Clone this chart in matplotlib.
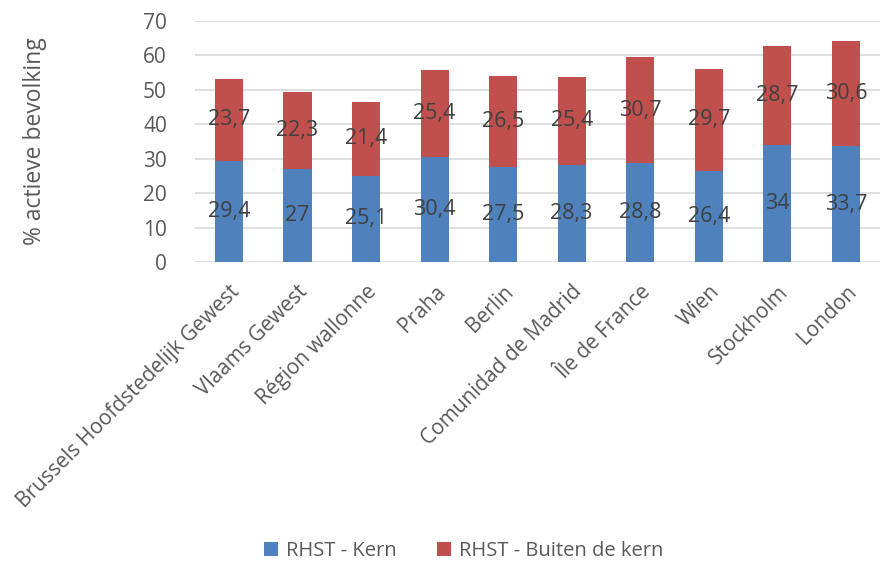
import numpy as np
import matplotlib.pyplot as plt

regions = ['Brussels Hoofdstedelijk Gewest', 'Vlaams Gewest', 'Région wallonne',
           'Praha', 'Berlin', 'Comunidad de Madrid', 'Île de France', 'Wien',
           'Stockholm', 'London']
kern = [29.4, 27, 25.1, 30.4, 27.5, 28.3, 28.8, 26.4, 34, 33.7]
buiten = [23.7, 22.3, 21.4, 25.4, 26.5, 25.4, 30.7, 29.7, 28.7, 30.6]

plt.rcParams['font.family'] = ['Open Sans', 'DejaVu Sans']

fig = plt.figure(figsize=(8.89, 5.63), dpi=100)
ax = fig.add_axes([0.219, 0.5346, 0.771, 0.4281])

x = np.arange(len(regions))
w = 0.41
b1 = ax.bar(x, kern, w, color='#4F81BD', label='RHST - Kern', zorder=2)
b2 = ax.bar(x, buiten, w, bottom=kern, color='#C0504D', label='RHST - Buiten de kern', zorder=2)

def fmt(v):
    return f'{v:g}'.replace('.', ',')

for bars, vals, base in [(b1, kern, [0] * len(kern)), (b2, buiten, kern)]:
    for rect, v, b in zip(bars, vals, base):
        ax.text(rect.get_x() + rect.get_width() / 2, b + v / 2, fmt(v),
                ha='center', va='center', fontsize=15.5, color='#404040', zorder=3)

ax.set_xlim(-0.5, len(regions) - 0.5)
ax.set_ylim(0, 70)
ax.set_yticks(range(0, 71, 10))
ax.yaxis.grid(True, color='#D9D9D9', linewidth=1.2, zorder=0)
ax.set_axisbelow(True)
for s in ax.spines.values():
    s.set_visible(False)
ax.tick_params(axis='both', length=0, labelcolor='#595959')
ax.tick_params(axis='y', labelsize=15, pad=20)
ax.set_xticks(x)
ax.set_xticklabels(regions, rotation=45, ha='right', rotation_mode='anchor', fontsize=15)
ax.tick_params(axis='x', pad=14)
for lbl in ax.get_xticklabels():
    lbl.set_x(lbl.get_position()[0])

ax.set_ylabel('% actieve bevolking', fontsize=16.5, color='#595959')
ax.yaxis.set_label_coords(-0.215, 0.5)

fig.legend(handles=[b1, b2], loc='center', bbox_to_anchor=(0.522, 0.021), ncol=2,
           frameon=False, fontsize=14.5, labelcolor='#595959', handlelength=0.7,
           handleheight=0.7, columnspacing=2.0, handletextpad=0.4)

plt.savefig('out.png')
